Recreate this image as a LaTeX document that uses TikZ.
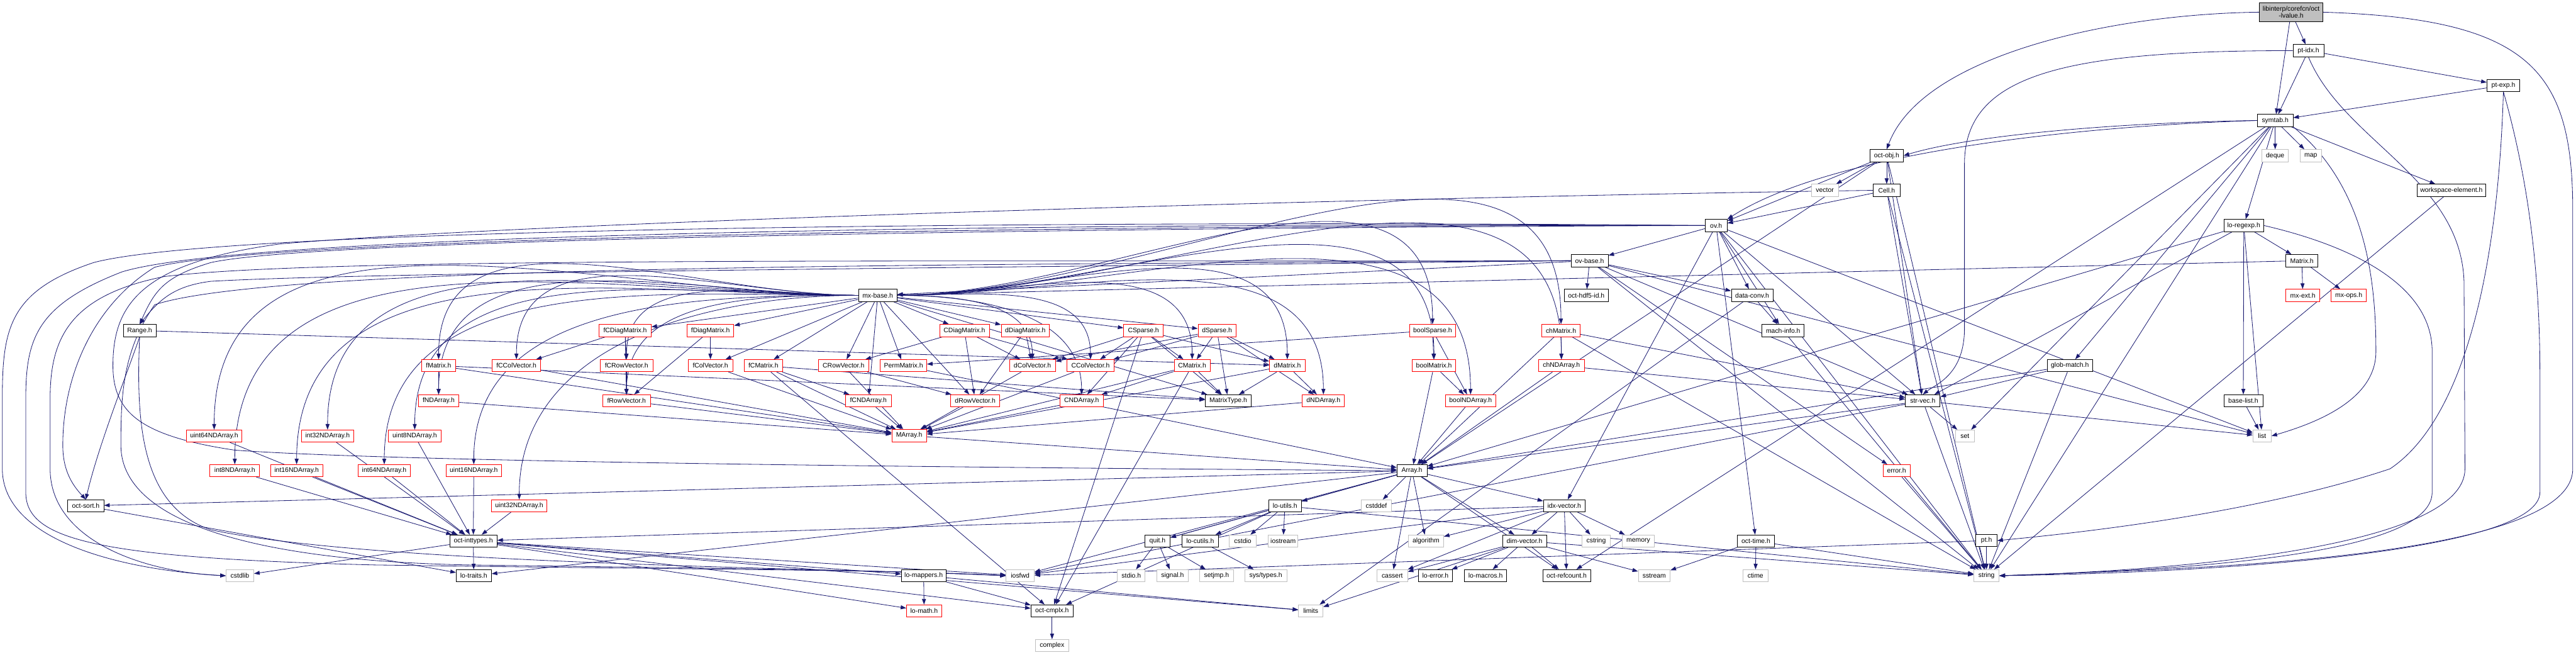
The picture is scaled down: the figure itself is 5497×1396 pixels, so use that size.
\documentclass[tikz,border=0pt]{standalone}
\usepackage{fontspec}
\setmainfont{Liberation Sans}
\usetikzlibrary{arrows.meta,backgrounds}
\definecolor{edgec}{HTML}{191970}
\definecolor{grayb}{HTML}{BFBFBF}
\tikzset{
 box/.style={draw=black, fill=white, line width=0.55pt, rectangle, minimum height=13pt, inner xsep=1pt, inner ysep=0pt, font=\fontsize{7}{7.8}\selectfont},
 bb/.style={box},
 rb/.style={box, draw=red},
 gb/.style={box, draw=grayb},
 rootb/.style={box, fill=grayb, align=center, minimum height=20pt},
 edg/.style={draw=edgec, line width=0.55pt, -{Triangle[length=6pt,width=4.2pt]}},
}
\newcommand\nd[6]{\node[#5,minimum width=#4*0.5pt] (#1) at (#2,#3) {#6};}
\begin{document}
\begin{tikzpicture}[x=0.5pt,y=-0.5pt]
\useasboundingbox (0,0) rectangle (5497,1396);
% ---------------- nodes ----------------
\nd{root}{4889}{26}{136}{rootb}{libinterp/corefcn/oct\\-lvalue.h}
\nd{ptidx}{4926}{108}{66}{bb}{pt-idx.h}
\nd{ptexp}{5342}{182}{70}{bb}{pt-exp.h}
\nd{symtab}{4855}{257}{76}{bb}{symtab.h}
\nd{deque}{4855}{332}{57}{gb}{deque}
\nd{map}{4931}{332}{46}{gb}{map}
\nd{wse}{5231}{406}{147}{bb}{workspace-element.h}
\nd{regexp}{4788}{481}{85}{bb}{lo-regexp.h}
\nd{Matrix}{4912}{556}{68}{bb}{Matrix.h}
\nd{mxext}{4914}{630}{72}{rb}{mx-ext.h}
\nd{mxops}{5012}{630}{75}{rb}{mx-ops.h}
\nd{glob}{4417}{780}{97}{bb}{glob-match.h}
\nd{baselist}{4787}{855}{83}{bb}{base-list.h}
\nd{strvec}{4103}{855}{74}{bb}{str-vec.h}
\nd{set}{4193}{930}{41}{gb}{set}
\nd{list}{4827}{930}{39}{gb}{list}
\nd{pt}{4239}{1153}{45}{bb}{pt.h}
\nd{string}{4239}{1228}{54}{gb}{string}
\nd{octobj}{4026}{332}{71}{bb}{oct-obj.h}
\nd{vector}{3894}{406}{58}{gb}{vector}
\nd{Cell}{4026}{406}{57}{bb}{Cell.h}
\nd{ov}{3662}{481}{47}{bb}{ov.h}
\nd{ovbase}{3392}{556}{79}{bb}{ov-base.h}
\nd{hdf5}{3385}{630}{95}{bb}{oct-hdf5-id.h}
\nd{dataconv}{3739}{630}{89}{bb}{data-conv.h}
\nd{machinfo}{3805}{705}{90}{bb}{mach-info.h}
\nd{boolSparse}{3057}{705}{98}{rb}{boolSparse.h}
\nd{chMatrix}{3331}{705}{81}{rb}{chMatrix.h}
\nd{boolMatrix}{3060}{780}{93}{rb}{boolMatrix.h}
\nd{chNDArray}{3332}{780}{98}{rb}{chNDArray.h}
\nd{dNDArray}{2824}{855}{90}{rb}{dNDArray.h}
\nd{boolNDArray}{3138}{855}{107}{rb}{boolNDArray.h}
\nd{mxbase}{1873}{630}{82}{bb}{mx-base.h}
\nd{fCDiag}{1334}{705}{111}{rb}{fCDiagMatrix.h}
\nd{fDiag}{1516}{705}{100}{rb}{fDiagMatrix.h}
\nd{CDiag}{2058}{705}{106}{rb}{CDiagMatrix.h}
\nd{dDiag}{2188}{705}{103}{rb}{dDiagMatrix.h}
\nd{CSparse}{2440}{705}{84}{rb}{CSparse.h}
\nd{dSparse}{2597}{705}{81}{rb}{dSparse.h}
\nd{fCRow}{1337}{780}{112}{rb}{fCRowVector.h}
\nd{fCol}{1516}{780}{95}{rb}{fColVector.h}
\nd{fCMatrix}{1629}{780}{82}{rb}{fCMatrix.h}
\nd{CRow}{1800}{780}{107}{rb}{CRowVector.h}
\nd{Perm}{1928}{780}{99}{rb}{PermMatrix.h}
\nd{dCol}{2203}{780}{98}{rb}{dColVector.h}
\nd{CCol}{2327}{780}{101}{rb}{CColVector.h}
\nd{CMatrix}{2544}{780}{77}{rb}{CMatrix.h}
\nd{dMatrix}{2747}{780}{76}{rb}{dMatrix.h}
\nd{fRow}{1337}{855}{102}{rb}{fRowVector.h}
\nd{fCND}{1853}{855}{98}{rb}{fCNDArray.h}
\nd{dRow}{2081}{855}{104}{rb}{dRowVector.h}
\nd{CND}{2308}{855}{93}{rb}{CNDArray.h}
\nd{MatrixType}{2621}{855}{98}{bb}{MatrixType.h}
\nd{MArray}{1940}{929}{74}{rb}{MArray.h}
\nd{Range}{298}{705}{70}{bb}{Range.h}
\nd{fMatrix}{936}{780}{73}{rb}{fMatrix.h}
\nd{fCCol}{1102}{780}{104}{rb}{fCColVector.h}
\nd{fND}{936}{855}{87}{rb}{fNDArray.h}
\nd{u64}{457}{930}{118}{rb}{uint64NDArray.h}
\nd{i32}{699}{930}{111}{rb}{int32NDArray.h}
\nd{u8}{885}{930}{112}{rb}{uint8NDArray.h}
\nd{i8}{501}{1004}{106}{rb}{int8NDArray.h}
\nd{i16}{633}{1004}{112}{rb}{int16NDArray.h}
\nd{i64}{820}{1004}{111}{rb}{int64NDArray.h}
\nd{u16}{1011}{1004}{118}{rb}{uint16NDArray.h}
\nd{osort}{183}{1079}{77}{bb}{oct-sort.h}
\nd{u32}{1108}{1079}{118}{rb}{uint32NDArray.h}
\nd{inttypes}{1010}{1154}{101}{bb}{oct-inttypes.h}
\nd{cstdlib}{512}{1228}{59}{gb}{cstdlib}
\nd{lotraits}{1011}{1228}{75}{bb}{lo-traits.h}
\nd{loutils}{2742}{1079}{70}{bb}{lo-utils.h}
\nd{quit}{2470}{1154}{54}{bb}{quit.h}
\nd{locutils}{2561}{1154}{78}{bb}{lo-cutils.h}
\nd{cstdio}{2652}{1154}{57}{gb}{cstdio}
\nd{iostream}{2738}{1154}{63}{gb}{iostream}
\nd{lomappers}{1971}{1228}{95}{bb}{lo-mappers.h}
\nd{iosfwd}{2177}{1228}{60}{gb}{iosfwd}
\nd{stdioh}{2414}{1228}{59}{gb}{stdio.h}
\nd{signalh}{2502}{1228}{66}{gb}{signal.h}
\nd{setjmp}{2596}{1228}{72}{gb}{setjmp.h}
\nd{systypes}{2701}{1228}{90}{gb}{sys/types.h}
\nd{lomath}{1972}{1303}{75}{rb}{lo-math.h}
\nd{cmplx}{2245}{1303}{90}{bb}{oct-cmplx.h}
\nd{complex}{2245}{1377}{70}{gb}{complex}
\nd{Array}{3013}{1004}{64}{bb}{Array.h}
\nd{errorh}{4047}{1004}{58}{rb}{error.h}
\nd{cstddef}{2937}{1079}{65}{gb}{cstddef}
\nd{idxvec}{3338}{1079}{89}{bb}{idx-vector.h}
\nd{algorithm}{3043}{1154}{75}{gb}{algorithm}
\nd{dimvec}{3253}{1154}{94}{bb}{dim-vector.h}
\nd{cstring}{3406}{1154}{60}{gb}{cstring}
\nd{memory}{3496}{1154}{69}{gb}{memory}
\nd{octtime}{3747}{1154}{79}{bb}{oct-time.h}
\nd{cassert}{2971}{1228}{65}{gb}{cassert}
\nd{loerror}{3063}{1228}{73}{bb}{lo-error.h}
\nd{lomacros}{3170}{1228}{90}{bb}{lo-macros.h}
\nd{refcount}{3343}{1228}{102}{bb}{oct-refcount.h}
\nd{sstream}{3530}{1228}{68}{gb}{sstream}
\nd{ctime}{3746}{1228}{54}{gb}{ctime}
\nd{limits}{2797}{1303}{52}{gb}{limits}
% ---------------- edges ----------------
\begin{pgfonlayer}{background}
\foreach \a/\b in {root/ptidx, root/symtab,
 ptidx/ptexp, ptidx/symtab, ptexp/symtab,
 symtab/deque, symtab/map, symtab/wse, symtab/regexp, symtab/glob, symtab/set, symtab/refcount, symtab/string,
 regexp/Matrix, regexp/baselist, regexp/list, regexp/strvec, regexp/Array,
 Matrix/mxext, Matrix/mxops, Matrix/mxbase,
 glob/strvec, glob/Array, glob/string, baselist/list,
 strvec/list, strvec/set, strvec/string, strvec/Array, strvec/iosfwd,
 pt/string, pt/iosfwd, wse/string, errorh/string,
 octobj/vector, octobj/Cell, octobj/ov, octobj/Array, octobj/strvec, octobj/string,
 Cell/ov, Cell/strvec, Cell/string,
 ov/ovbase, ov/dataconv, ov/machinfo, ov/strvec, ov/octtime, ov/string, ov/list, ov/idxvec,
 ovbase/hdf5, ovbase/dataconv, ovbase/mxbase, ovbase/strvec, ovbase/errorh, ovbase/string, ovbase/list,
 dataconv/machinfo, dataconv/limits, machinfo/string,
 boolSparse/boolMatrix, boolSparse/boolNDArray, boolSparse/Perm,
 chMatrix/chNDArray, chMatrix/strvec, chMatrix/Array, chMatrix/string,
 chNDArray/Array, chNDArray/strvec,
 boolMatrix/boolNDArray, boolMatrix/Array, boolNDArray/Array, dNDArray/MArray,
 mxbase/fCDiag, mxbase/fDiag, mxbase/CDiag, mxbase/dDiag, mxbase/CSparse, mxbase/dSparse,
 mxbase/fCol, mxbase/fCMatrix, mxbase/CRow, mxbase/Perm, mxbase/dRow, mxbase/fCND, mxbase/MatrixType,
 fCDiag/fCCol, fCDiag/fCRow, fCDiag/fRow, fDiag/fCol, fDiag/fRow,
 CDiag/CRow, CDiag/dRow, CDiag/dCol, CDiag/CCol, dDiag/dCol, dDiag/dRow,
 CSparse/CMatrix, CSparse/CCol, CSparse/dCol, CSparse/CND, CSparse/MatrixType, CSparse/dMatrix, CSparse/cmplx,
 dSparse/dCol, dSparse/CCol, dSparse/CMatrix, dSparse/dMatrix, dSparse/MatrixType, dSparse/dNDArray,
 fCRow/fRow, fCol/MArray, fCMatrix/fCND, fCMatrix/MArray, fCMatrix/MatrixType, fCMatrix/cmplx,
 CRow/MArray, CRow/dRow, Perm/Array, dCol/MArray, CCol/MArray,
 CMatrix/CND, CMatrix/MatrixType, CMatrix/MArray, CMatrix/cmplx,
 dMatrix/dNDArray, dMatrix/MatrixType, dMatrix/MArray,
 fRow/MArray, fCND/MArray, dRow/MArray, CND/MArray,
 fMatrix/fND, fMatrix/MArray, fMatrix/MatrixType, fCCol/MArray, fND/MArray, MArray/Array,
 u64/inttypes, i32/inttypes, u8/inttypes, i8/inttypes, i16/inttypes, i64/inttypes, u16/inttypes, u32/inttypes,
 osort/lotraits, Range/dMatrix,
 inttypes/cstdlib, inttypes/lotraits, inttypes/lomappers, inttypes/lomath, inttypes/cmplx, inttypes/iosfwd, inttypes/limits,
 lomappers/lomath, lomappers/cmplx, lomappers/limits, cmplx/complex,
 Array/cassert, Array/cstddef, Array/algorithm, Array/iosfwd, Array/dimvec, Array/idxvec, Array/lotraits,
 Array/loutils, Array/osort, Array/quit, Array/refcount,
 idxvec/cassert, idxvec/algorithm, idxvec/iosfwd, idxvec/memory, idxvec/cstring, idxvec/dimvec, idxvec/inttypes, idxvec/refcount,
 dimvec/cassert, dimvec/limits, dimvec/sstream, dimvec/string, dimvec/loerror, dimvec/lomacros, dimvec/refcount,
 octtime/ctime, octtime/sstream, octtime/string,
 loutils/quit, loutils/locutils, loutils/cstdio, loutils/iostream, loutils/string, loutils/cmplx,
 quit/stdioh, quit/signalh, quit/setjmp, locutils/systypes}
 {\draw[edg] (\a) -- (\b);}
% mx-base fan, leftwards
\foreach \b in {fMatrix, fCCol, fND, fCRow, fRow, u64, i32, u8, i8, i16, i64, u16, u32}
 {\draw[edg] (mxbase) to[out=180,in=90] (\b);}
% mx-base fan, rightwards
\foreach \b in {dCol, CCol, CMatrix, CND, dMatrix, dNDArray, boolSparse, chMatrix, boolMatrix, chNDArray, boolNDArray}
 {\draw[edg] (mxbase) to[out=0,in=90] (\b);}
% routed edges
\draw[edg] (root.west) .. controls (4500,30) and (4100,120) .. (octobj.north);
\draw[edg] (root.east) .. controls (5400,40) and (5490,150) .. (5490,450) -- (5490,1000) .. controls (5490,1200) and (4600,1215) .. (string.east);
\draw[edg] (ptidx.west) .. controls (4400,108) and (4192,160) .. (4192,350) -- (4192,700) .. controls (4192,800) and (4130,820) .. (strvec.north);
\draw[edg] (ptidx.south) .. controls (5000,300) and (5250,380) .. (5258,600) -- (5260,1000) .. controls (5260,1160) and (4700,1215) .. (string.east);
\draw[edg] (ptexp.south) .. controls (5330,600) and (5250,900) .. (5100,1000) .. controls (4800,1100) and (4400,1140) .. (pt.east);
\draw[edg] (ptexp.south) .. controls (5400,400) and (5420,600) .. (5420,800) -- (5420,1050) .. controls (5420,1170) and (4800,1220) .. (string.east);
\draw[edg] (regexp.east) .. controls (5000,520) and (5190,600) .. (5190,750) -- (5190,1050) .. controls (5190,1180) and (4700,1215) .. (string.east);
\draw[edg] (symtab.west) .. controls (4500,262) and (4200,290) .. (octobj.east);
\draw[edg] (symtab.west) .. controls (4400,270) and (3900,330) .. (ov.north east);
\draw[edg] (symtab.south east) .. controls (5050,400) and (5070,600) .. (5070,750) .. controls (5070,850) and (4950,900) .. (list.east);
\draw[edg] (ov.west) .. controls (2500,470) and (500,480) .. (200,560) .. controls (20,620) and (5,700) .. (5,850) -- (5,1000) .. controls (5,1150) and (250,1215) .. (cstdlib.west);
\draw[edg] (ov.west) .. controls (2500,475) and (550,490) .. (260,580) .. controls (80,650) and (55,720) .. (55,850) -- (55,1050) .. controls (55,1150) and (200,1190) .. (800,1205) .. controls (1500,1215) and (1900,1215) .. (iosfwd.west);
\draw[edg] (ov.west) .. controls (2500,480) and (600,500) .. (330,570) .. controls (200,650) and (134,800) .. (134,950) .. controls (134,1010) and (160,1040) .. (osort.north);
\draw[edg] (ov.west) .. controls (2500,485) and (700,505) .. (450,560) .. controls (350,590) and (330,620) .. (Range.north);
\draw[edg] (ovbase.west) .. controls (2200,560) and (700,545) .. (350,590) .. controls (150,630) and (107,720) .. (107,850) -- (107,1000) .. controls (107,1150) and (300,1220) .. (cstdlib.west);
\draw[edg] (ovbase.west) .. controls (2200,570) and (800,580) .. (450,600) .. controls (370,610) and (340,640) .. (Range.north);
\draw[edg] (ovbase.west) .. controls (2200,565) and (600,560) .. (330,650) .. controls (260,750) and (258,850) .. (258,950) .. controls (258,1100) and (500,1195) .. (1000,1205) .. controls (1600,1213) and (1900,1216) .. (iosfwd.west);
\draw[edg] (Cell.west) .. controls (3000,420) and (1200,470) .. (600,520) .. controls (300,560) and (241,650) .. (241,780) .. controls (241,880) and (300,930) .. (500,960) .. controls (900,990) and (2500,1000) .. (Array.west);
\draw[edg] (Range.south) .. controls (270,800) and (210,950) .. (osort.north);
\draw[edg] (Range.south) .. controls (290,900) and (300,1080) .. (450,1130) .. controls (800,1205) and (1800,1212) .. (iosfwd.west);
\end{pgfonlayer}
\end{tikzpicture}
\end{document}
